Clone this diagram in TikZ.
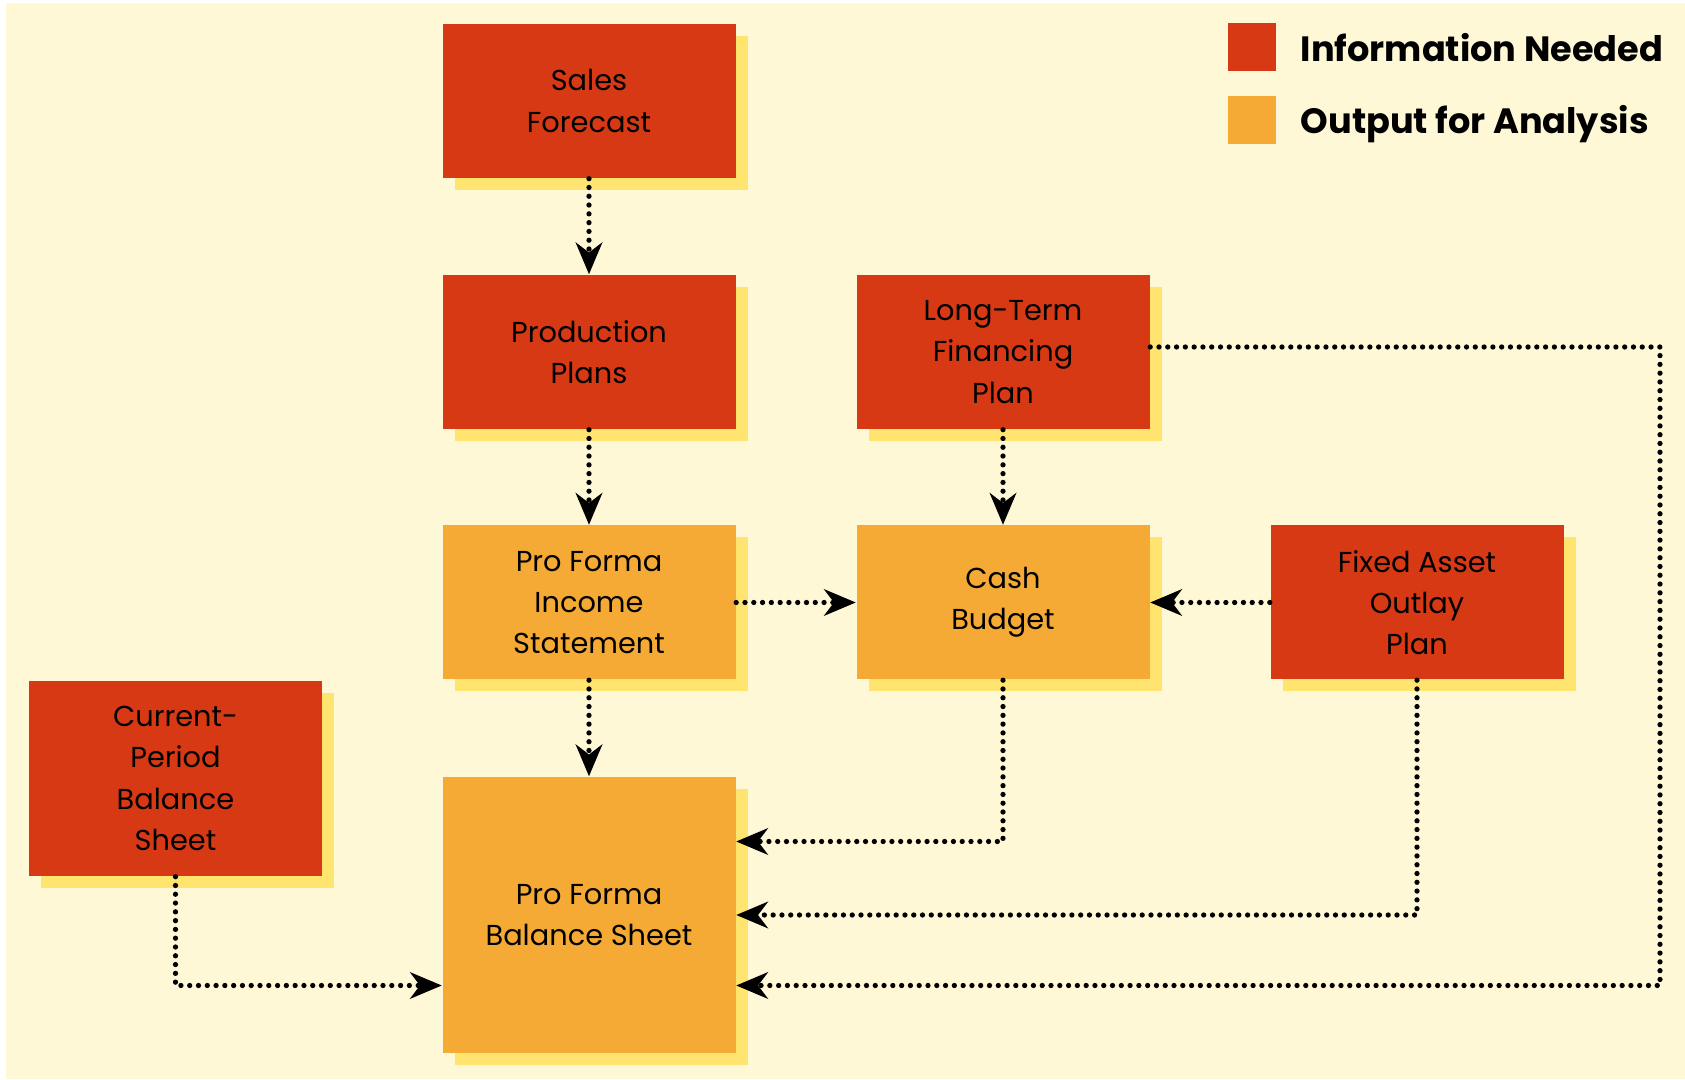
\documentclass[tikz,border=0pt]{standalone}
\usepackage{fontspec}
\setmainfont{Poppins}
\usetikzlibrary{shadows,arrows.meta}
\definecolor{bgcream}{RGB}{254,248,214}
\definecolor{infored}{RGB}{214,57,20}
\definecolor{outorange}{RGB}{245,170,53}
\definecolor{shadowyellow}{RGB}{255,228,112}

\begin{document}
\begin{tikzpicture}[
    box/.style={minimum width=2.93cm, minimum height=1.54cm, inner sep=0pt, align=center,
        font=\fontsize{8.2}{11.7}\selectfont,
        drop shadow={fill=shadowyellow, opacity=1, shadow xshift=0.12cm, shadow yshift=-0.12cm}},
    info/.style={box, fill=infored},
    output/.style={box, fill=outorange},
    flow/.style={line width=1.5pt, line cap=round, dash pattern=on 0pt off 2.5pt,
        -{Stealth[length=9pt, width=7.5pt, inset=2.8pt]}},
    keybox/.style={minimum size=0.48cm, inner sep=0pt},
    keytext/.style={anchor=base west, inner sep=0pt, font=\fontsize{10}{12}\selectfont\bfseries}
]

    \useasboundingbox (0,0) rectangle (16.85,10.79);
    \fill[white] (0,0) rectangle (16.85,10.79);
    \fill[bgcream] (0.06,0) rectangle (16.85,10.76);

    
    \node[info] (sales) at (5.89,9.78) {Sales\\Forecast};
    \node[info] (prod) at (5.89,7.27) {Production\\Plans};
    \node[info] (longterm) at (10.03,7.27) {Long-Term\\Financing\\Plan};
    \node[output] (income) at (5.89,4.765) {Pro Forma\\Income\\Statement};
    \node[output] (cash) at (10.03,4.765) {Cash\\Budget};
    \node[info] (fixed) at (14.17,4.765) {Fixed Asset\\Outlay\\Plan};
    \node[info, minimum height=1.95cm] (current) at (1.755,3.005) {Current-\\Period\\Balance\\Sheet};
    \node[output, minimum height=2.76cm] (balance) at (5.89,1.64) {Pro Forma\\Balance Sheet};

    
    \node[keybox, fill=infored] (keyinfo) at (12.52,10.315) {};
    \node[keybox, fill=outorange] (keyout) at (12.52,9.59) {};
    \node[keytext] (keyinfotext) at (13.0,10.17) {Information Needed};
    \node[keytext] (keyouttext) at (13.0,9.45) {Output for Analysis};

    
    \coordinate (rightturn) at (16.6,0.935);

    \draw[flow] (sales) -- (prod);
    \draw[flow] (prod) -- (income);
    \draw[flow] (longterm) -- (cash);
    \draw[flow] (income) -- (cash);
    \draw[flow] (fixed) -- (cash);
    \draw[flow] (income) -- (balance);
    \draw[flow] (cash.south) |- ([yshift=0.735cm]balance.east);
    \draw[flow] (fixed.south) |- (balance.east);
    \draw[flow] ([yshift=0.05cm]longterm.east) -| (rightturn) -- (rightturn -| balance.east);
    \draw[flow] (current.south) |- (rightturn -| balance.west);
\end{tikzpicture}
\end{document}
